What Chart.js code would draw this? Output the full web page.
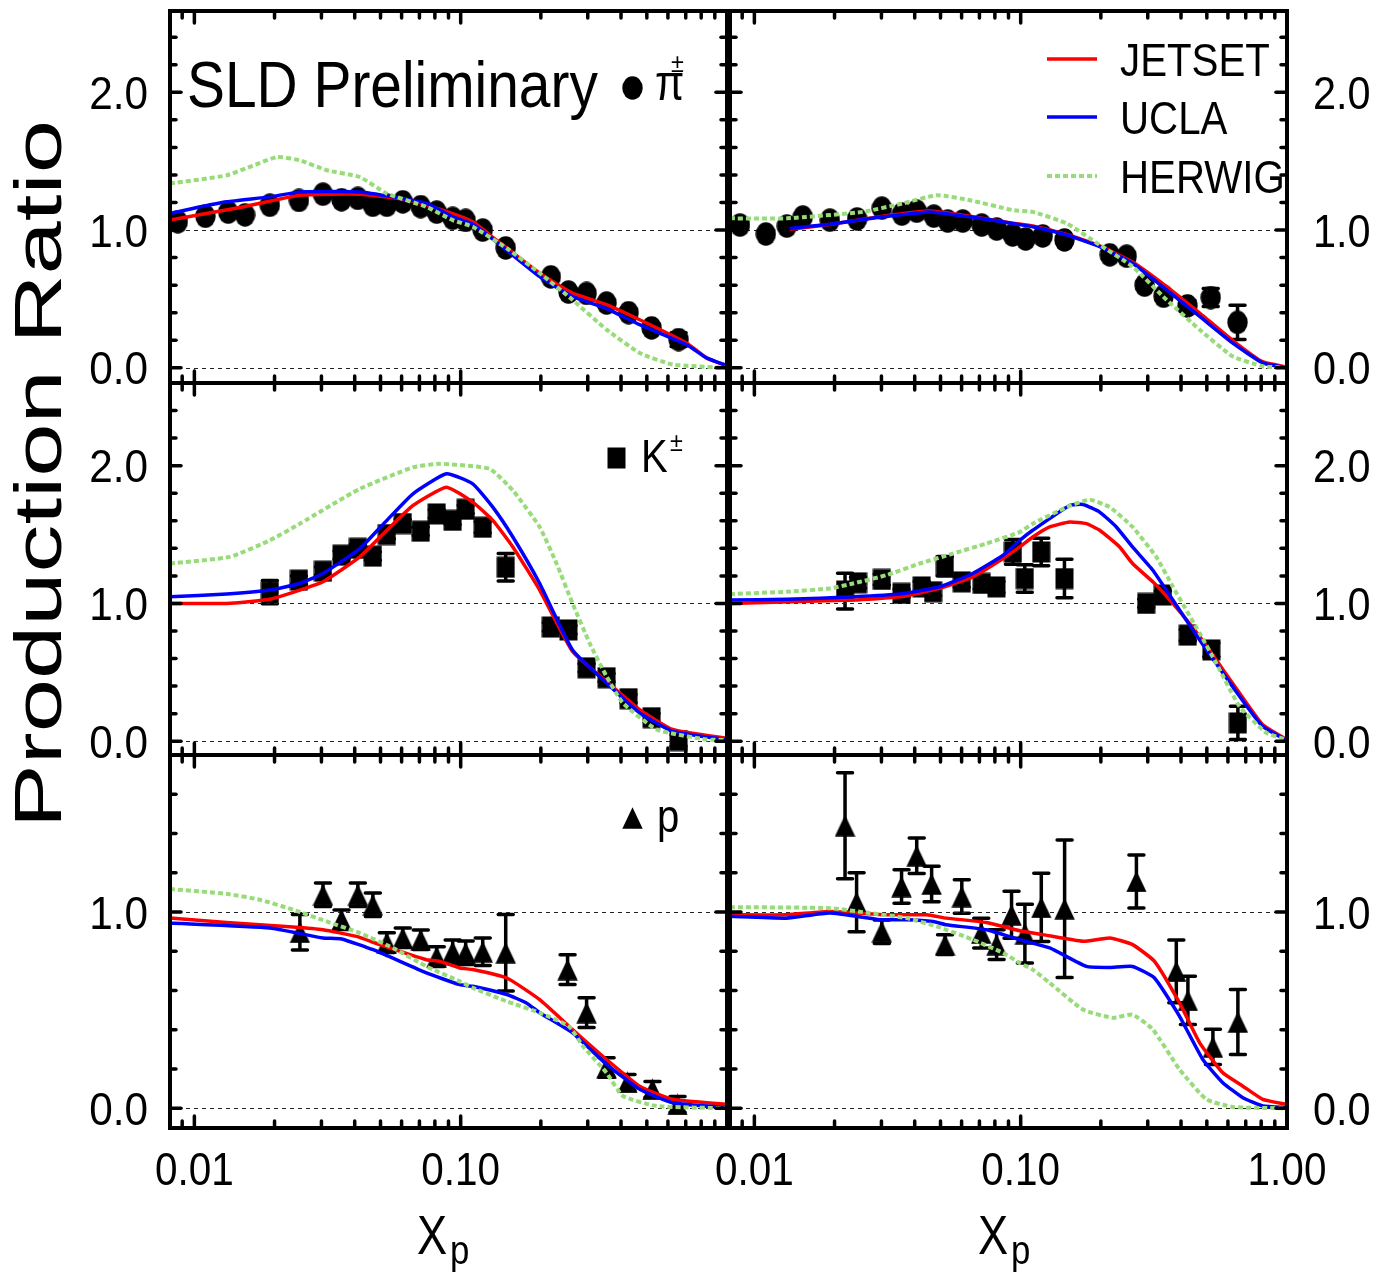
<!DOCTYPE html>
<html>
<head>
<meta charset="utf-8">
<title>Production Ratio vs x_p</title>
<script src="https://cdn.jsdelivr.net/npm/chart.js@4.4.1/dist/chart.umd.min.js"></script>
<style>
  body { margin: 0; background: #fff; }
  #page { position: relative; width: 1387px; height: 1276px; overflow: hidden; background: #fff; }
  #page canvas { position: absolute; left: 0; top: 0; }
</style>
</head>
<body>
<div id="page"></div>
<script>
const PAGE_W = 1387, PAGE_H = 1276;
const X_MIN = 0.0081, X_MAX = 1.0;
const FONT = '"Liberation Sans", Arial, Helvetica, sans-serif';

const modelNames = ['JETSET', 'UCLA', 'HERWIG'];
const yTitle = 'Production Ratio';

// ---------- pi+- ----------
const piLX = [0.00867, 0.0110, 0.0134, 0.0155, 0.0192, 0.0247, 0.0304, 0.0357, 0.0411, 0.0468, 0.0528, 0.0606, 0.0708, 0.0813, 0.0933, 0.1044, 0.121, 0.1476, 0.218, 0.254, 0.297, 0.353, 0.427, 0.521, 0.658];
const piLY = [1.06, 1.10, 1.13, 1.11, 1.18, 1.215, 1.26, 1.22, 1.23, 1.18, 1.18, 1.205, 1.17, 1.13, 1.085, 1.07, 1.0, 0.87, 0.66, 0.55, 0.54, 0.47, 0.40, 0.29, 0.205];
const piLErr = [0.02, 0.02, 0.02, 0.02, 0.02, 0.02, 0.02, 0.02, 0.02, 0.02, 0.02, 0.02, 0.02, 0.02, 0.02, 0.02, 0.02, 0.02, 0.02, 0.02, 0.02, 0.02, 0.03, 0.03, 0.05];

const jetsetPiLX = [0.0081, 0.0152, 0.0249, 0.0418, 0.0644, 0.0933, 0.111, 0.136, 0.198, 0.263, 0.353, 0.47, 0.705, 0.838, 1.0];
const jetsetPiLY = [1.072, 1.168, 1.253, 1.26, 1.217, 1.12, 1.06, 0.928, 0.687, 0.542, 0.459, 0.349, 0.181, 0.072, 0.015];
const uclaPiLX = [0.0081, 0.00986, 0.01324, 0.0192, 0.0249, 0.0418, 0.0556, 0.0745, 0.0933, 0.111, 0.136, 0.198, 0.263, 0.353, 0.47, 0.705, 0.838, 1.0];
const uclaPiLY = [1.12, 1.157, 1.205, 1.241, 1.277, 1.277, 1.241, 1.193, 1.096, 1.043, 0.915, 0.662, 0.518, 0.43, 0.313, 0.168, 0.072, 0.015];
const herwigPiLX = [0.0081, 0.01324, 0.0204, 0.0249, 0.0314, 0.0418, 0.0528, 0.0745, 0.0933, 0.111, 0.149, 0.198, 0.263, 0.353, 0.47, 0.625, 1.0];
const herwigPiLY = [1.338, 1.398, 1.53, 1.506, 1.434, 1.385, 1.265, 1.168, 1.072, 1.024, 0.868, 0.687, 0.494, 0.277, 0.108, 0.024, 0.0];

const piRX = [0.00883, 0.01104, 0.01324, 0.0152, 0.0192, 0.0243, 0.0301, 0.0358, 0.0407, 0.0472, 0.0532, 0.0606, 0.0714, 0.0813, 0.0933, 0.1044, 0.121, 0.146, 0.216, 0.25, 0.292, 0.344, 0.423, 0.517, 0.652];
const piRY = [1.036, 0.971, 1.029, 1.094, 1.072, 1.08, 1.159, 1.116, 1.137, 1.101, 1.065, 1.065, 1.036, 1.007, 0.964, 0.935, 0.957, 0.928, 0.82, 0.81, 0.60, 0.52, 0.45, 0.51, 0.33];
const piRErr = [0.02, 0.02, 0.02, 0.02, 0.02, 0.02, 0.02, 0.02, 0.02, 0.02, 0.02, 0.02, 0.02, 0.02, 0.02, 0.02, 0.02, 0.02, 0.03, 0.03, 0.03, 0.03, 0.04, 0.065, 0.125];

const jetsetPiRX = [0.0136, 0.0192, 0.0303, 0.0456, 0.0644, 0.0933, 0.111, 0.149, 0.198, 0.263, 0.353, 0.47, 0.624, 0.809, 1.0];
const jetsetPiRY = [1.005, 1.04, 1.10, 1.138, 1.10, 1.05, 1.03, 0.968, 0.885, 0.768, 0.59, 0.398, 0.2, 0.045, 0.005];
const uclaPiRX = [0.0136, 0.0192, 0.0303, 0.0456, 0.0644, 0.0933, 0.111, 0.149, 0.198, 0.263, 0.353, 0.47, 0.624, 0.809, 1.0];
const uclaPiRY = [1.012, 1.043, 1.096, 1.132, 1.096, 1.048, 1.024, 0.964, 0.879, 0.759, 0.566, 0.373, 0.181, 0.036, 0.0];
const herwigPiRX = [0.0081, 0.01324, 0.0255, 0.036, 0.0484, 0.0644, 0.0933, 0.111, 0.149, 0.198, 0.263, 0.353, 0.47, 0.624, 0.809, 1.0];
const herwigPiRY = [1.085, 1.085, 1.132, 1.193, 1.253, 1.217, 1.145, 1.132, 1.048, 0.892, 0.735, 0.494, 0.277, 0.084, 0.012, 0.0];

// ---------- K+- ----------
const kLX = [0.0192, 0.0247, 0.0304, 0.0357, 0.0411, 0.0468, 0.0528, 0.0606, 0.0708, 0.0813, 0.0933, 0.1044, 0.121, 0.1476, 0.218, 0.254, 0.297, 0.353, 0.427, 0.521, 0.658];
const kLY = [1.082, 1.169, 1.234, 1.35, 1.40, 1.343, 1.50, 1.58, 1.524, 1.65, 1.603, 1.683, 1.553, 1.263, 0.829, 0.808, 0.533, 0.461, 0.309, 0.171, 0.005];
const kLErr = [0.085, 0.03, 0.03, 0.03, 0.03, 0.03, 0.03, 0.03, 0.03, 0.03, 0.03, 0.03, 0.04, 0.10, 0.03, 0.03, 0.03, 0.03, 0.03, 0.03, 0.04];

const jetsetKLX = [0.0081, 0.01324, 0.0192, 0.0249, 0.0304, 0.0418, 0.0528, 0.0662, 0.0884, 0.111, 0.132, 0.157, 0.198, 0.263, 0.353, 0.47, 0.625, 1.0];
const jetsetKLY = [1.0, 1.0, 1.03, 1.097, 1.157, 1.338, 1.531, 1.711, 1.844, 1.735, 1.603, 1.41, 1.097, 0.651, 0.434, 0.229, 0.085, 0.02];
const uclaKLX = [0.0081, 0.01324, 0.0192, 0.0249, 0.0304, 0.0418, 0.0528, 0.0662, 0.0884, 0.111, 0.132, 0.157, 0.198, 0.263, 0.353, 0.47, 0.625, 1.0];
const uclaKLY = [1.048, 1.068, 1.097, 1.145, 1.218, 1.398, 1.603, 1.796, 1.941, 1.868, 1.699, 1.482, 1.145, 0.663, 0.422, 0.205, 0.072, 0.01];
const herwigKLX = [0.0081, 0.0136, 0.0192, 0.0249, 0.0418, 0.0662, 0.0834, 0.1285, 0.157, 0.198, 0.229, 0.263, 0.305, 0.353, 0.406, 0.544, 0.838, 1.0];
const herwigKLY = [1.29, 1.338, 1.458, 1.579, 1.832, 1.988, 2.013, 1.977, 1.82, 1.555, 1.29, 1.0, 0.711, 0.47, 0.278, 0.085, 0.012, 0.01];

const kRX = [0.0219, 0.0245, 0.0301, 0.0357, 0.0425, 0.0469, 0.0519, 0.0601, 0.0714, 0.0811, 0.0935, 0.1036, 0.1194, 0.146, 0.296, 0.342, 0.424, 0.52, 0.654];
const kRY = [1.09, 1.15, 1.174, 1.073, 1.12, 1.085, 1.27, 1.157, 1.145, 1.12, 1.374, 1.181, 1.374, 1.181, 1.0, 1.061, 0.77, 0.663, 0.133];
const kRErr = [0.13, 0.04, 0.04, 0.03, 0.04, 0.03, 0.07, 0.04, 0.04, 0.04, 0.09, 0.1, 0.1, 0.14, 0.03, 0.03, 0.04, 0.05, 0.12];

const jetsetKRX = [0.0081, 0.0235, 0.0352, 0.0497, 0.0662, 0.0859, 0.0992, 0.111, 0.1285, 0.1527, 0.1765, 0.198, 0.2353, 0.263, 0.3135, 0.3727, 0.47, 0.624, 0.809, 1.0];
const jetsetKRY = [1.0, 1.025, 1.048, 1.109, 1.193, 1.326, 1.41, 1.482, 1.555, 1.591, 1.579, 1.531, 1.41, 1.29, 1.157, 1.0, 0.759, 0.422, 0.121, 0.01];
const uclaKRX = [0.0081, 0.01324, 0.0235, 0.0352, 0.0497, 0.0662, 0.0859, 0.0992, 0.111, 0.1527, 0.1714, 0.198, 0.2286, 0.263, 0.3135, 0.3727, 0.47, 0.624, 0.809, 1.0];
const uclaKRY = [1.025, 1.03, 1.048, 1.068, 1.121, 1.218, 1.35, 1.458, 1.531, 1.711, 1.718, 1.663, 1.555, 1.41, 1.241, 1.025, 0.735, 0.398, 0.108, 0.005];
const herwigKRX = [0.0081, 0.01324, 0.0192, 0.0235, 0.0313, 0.0418, 0.0557, 0.0744, 0.0992, 0.111, 0.149, 0.1815, 0.216, 0.263, 0.323, 0.3727, 0.47, 0.542, 0.663, 0.836, 1.0];
const herwigKRY = [1.068, 1.085, 1.109, 1.145, 1.205, 1.29, 1.362, 1.435, 1.518, 1.579, 1.699, 1.753, 1.699, 1.555, 1.338, 1.121, 0.784, 0.567, 0.253, 0.061, 0.01];

// ---------- protons ----------
const pLX = [0.0249, 0.0304, 0.0357, 0.0411, 0.0468, 0.0528, 0.0606, 0.0708, 0.0813, 0.0933, 0.1044, 0.121, 0.1476, 0.252, 0.297, 0.353, 0.423, 0.525, 0.652];
const pLY = [0.897, 1.088, 0.961, 1.088, 1.037, 0.844, 0.869, 0.859, 0.773, 0.798, 0.793, 0.798, 0.793, 0.707, 0.488, 0.208, 0.132, 0.097, 0.02];
const pLErr = [0.09, 0.06, 0.05, 0.06, 0.06, 0.05, 0.05, 0.05, 0.05, 0.06, 0.06, 0.07, 0.195, 0.076, 0.076, 0.05, 0.04, 0.04, 0.04];

const jetsetPLX = [0.0081, 0.0132, 0.0235, 0.0304, 0.0406, 0.0497, 0.0744, 0.0834, 0.0992, 0.111, 0.149, 0.198, 0.263, 0.353, 0.47, 0.625, 1.0];
const jetsetPLY = [0.97, 0.947, 0.924, 0.91, 0.876, 0.834, 0.757, 0.749, 0.715, 0.707, 0.664, 0.554, 0.402, 0.249, 0.113, 0.046, 0.02];
const uclaPLX = [0.0081, 0.0192, 0.0304, 0.0357, 0.0469, 0.0744, 0.0992, 0.111, 0.149, 0.1765, 0.198, 0.263, 0.353, 0.47, 0.625, 1.0];
const uclaPLY = [0.944, 0.919, 0.868, 0.863, 0.808, 0.69, 0.63, 0.622, 0.58, 0.537, 0.487, 0.385, 0.224, 0.097, 0.029, 0.004];
const herwigPLX = [0.0081, 0.0132, 0.0176, 0.0235, 0.0314, 0.0418, 0.0557, 0.0744, 0.0992, 0.111, 0.149, 0.198, 0.255, 0.2877, 0.353, 0.4064, 0.544, 1.0];
const herwigPLY = [1.117, 1.093, 1.063, 1.012, 0.952, 0.893, 0.817, 0.723, 0.647, 0.614, 0.545, 0.487, 0.418, 0.317, 0.181, 0.063, 0.012, 0.0];

const pRX = [0.0219, 0.0242, 0.0301, 0.0357, 0.0407, 0.0463, 0.052, 0.0601, 0.0711, 0.0812, 0.0924, 0.1037, 0.1195, 0.1462, 0.272, 0.384, 0.4245, 0.527, 0.654];
const pRY = [1.44, 1.05, 0.90, 1.13, 1.287, 1.143, 0.834, 1.079, 0.893, 0.834, 0.986, 0.89, 1.024, 1.017, 1.156, 0.698, 0.55, 0.313, 0.44];
const pRErr = [0.27, 0.15, 0.06, 0.085, 0.09, 0.09, 0.05, 0.085, 0.076, 0.076, 0.12, 0.15, 0.174, 0.35, 0.135, 0.16, 0.123, 0.09, 0.165];

const jetsetPRX = [0.0081, 0.0132, 0.0192, 0.0313, 0.0443, 0.0526, 0.0744, 0.0992, 0.1213, 0.1714, 0.216, 0.263, 0.318, 0.395, 0.47, 0.574, 0.683, 0.811, 1.0];
const jetsetPRY = [0.986, 0.986, 1.003, 0.986, 0.986, 0.969, 0.947, 0.905, 0.885, 0.851, 0.868, 0.834, 0.749, 0.537, 0.334, 0.181, 0.113, 0.046, 0.02];
const uclaPRX = [0.0081, 0.0132, 0.0192, 0.0296, 0.0373, 0.0469, 0.0526, 0.0744, 0.0992, 0.1285, 0.1765, 0.216, 0.263, 0.318, 0.395, 0.483, 0.574, 0.683, 0.811, 1.0];
const uclaPRY = [0.978, 0.969, 0.995, 0.961, 0.961, 0.952, 0.935, 0.91, 0.859, 0.817, 0.723, 0.718, 0.723, 0.664, 0.469, 0.249, 0.131, 0.054, 0.012, 0.004];
const herwigPRX = [0.0081, 0.0192, 0.0271, 0.0373, 0.0483, 0.0662, 0.0859, 0.0992, 0.111, 0.1285, 0.1714, 0.222, 0.263, 0.3135, 0.395, 0.4977, 0.626, 1.0];
const herwigPRY = [1.025, 1.02, 0.995, 0.969, 0.927, 0.859, 0.792, 0.741, 0.707, 0.639, 0.503, 0.461, 0.478, 0.402, 0.198, 0.046, 0.007, 0.0];

// line look of the three generators: JETSET, UCLA, HERWIG
const modelStyle = [
  { color: '#ff0000', width: 3.5, dash: [] },
  { color: '#0000ff', width: 3.5, dash: [] },
  { color: '#97dc78', width: 4, dash: [5, 3] }
];

// ---------- helpers ----------
function pts(xs, ys) {
  return xs.map((x, i) => ({ x: x, y: ys[i] }));
}

// filled black marker drawn once on a small canvas, used as pointStyle
function marker(kind, w, h) {
  const c = document.createElement('canvas');
  c.width = w; c.height = h;
  const g = c.getContext('2d');
  g.fillStyle = '#000';
  g.beginPath();
  if (kind === 'circle') {
    g.ellipse(w / 2, h / 2, w / 2 - 0.3, h / 2 - 0.3, 0, 0, Math.PI * 2);
  } else if (kind === 'square') {
    g.rect(0.5, 0.5, w - 1, h - 1);
  } else {
    g.moveTo(w / 2, 0.3);
    g.lineTo(w - 0.3, h - 0.3);
    g.lineTo(0.3, h - 0.3);
    g.closePath();
  }
  g.fill();
  return c;
}
const CIRCLE = marker('circle', 21, 24);
const SQUARE = marker('square', 19, 22);
const TRIANGLE = marker('triangle', 21, 22);

// text is drawn a little narrower than the font, like the original figure
function label(ctx, str, x, y, size, align, sx) {
  ctx.save();
  ctx.font = size + 'px ' + FONT;
  ctx.textAlign = align || 'left';
  ctx.textBaseline = 'alphabetic';
  ctx.fillStyle = '#000';
  ctx.translate(x, y);
  ctx.scale(sx || 0.87, 1);
  ctx.fillText(str, 0, 0);
  ctx.restore();
}

// error bars sit under the markers and the model curves
const errorBars = {
  id: 'errorBars',
  beforeDatasetsDraw(chart) {
    const ctx = chart.ctx, xs = chart.scales.x, ys = chart.scales.y;
    chart.data.datasets.forEach(ds => {
      if (!ds.errors) return;
      ctx.save();
      ctx.strokeStyle = '#000';
      ctx.lineWidth = 3.5;
      ctx.lineCap = 'round';
      ds.data.forEach((p, i) => {
        const e = ds.errors[i];
        if (!e) return;
        const px = xs.getPixelForValue(p.x);
        const top = ys.getPixelForValue(p.y + e);
        const bot = ys.getPixelForValue(p.y - e);
        ctx.beginPath();
        ctx.moveTo(px, top); ctx.lineTo(px, bot);
        ctx.moveTo(px - 7.5, top); ctx.lineTo(px + 7.5, top);
        ctx.moveTo(px - 7.5, bot); ctx.lineTo(px + 7.5, bot);
        ctx.stroke();
      });
      ctx.restore();
    });
  }
};

const xMinorTicks = [0.009, 0.02, 0.03, 0.04, 0.05, 0.06, 0.07, 0.08, 0.09, 0.2, 0.3, 0.4, 0.5, 0.6, 0.7, 0.8, 0.9];
const xMajorTicks = [0.01, 0.1];

// frame, inward ticks, reference lines and tick labels of one panel
function framePlugin(cfg) {
  return {
    id: 'frame',
    beforeDatasetsDraw(chart) {
      const ctx = chart.ctx, a = chart.chartArea, ys = chart.scales.y;
      ctx.save();
      ctx.strokeStyle = '#222';
      ctx.lineWidth = 1.2;
      ctx.setLineDash([4, 4]);
      [0, 1].forEach(v => {
        const py = Math.round(ys.getPixelForValue(v)) + 0.5;
        ctx.beginPath();
        ctx.moveTo(a.left, py);
        ctx.lineTo(a.right, py);
        ctx.stroke();
      });
      ctx.restore();
    },
    afterDatasetsDraw(chart) {
      const ctx = chart.ctx, a = chart.chartArea, xs = chart.scales.x, ys = chart.scales.y;
      ctx.save();
      ctx.strokeStyle = '#000';
      ctx.lineCap = 'round';
      ctx.lineWidth = 3.5;
      const tick = (x0, y0, x1, y1) => { ctx.beginPath(); ctx.moveTo(x0, y0); ctx.lineTo(x1, y1); ctx.stroke(); };
      xMinorTicks.concat(xMajorTicks).forEach(v => {
        const len = xMajorTicks.includes(v) ? 12 : 7;
        const px = xs.getPixelForValue(v);
        tick(px, a.bottom, px, a.bottom - len);
        tick(px, a.top, px, a.top + len);
      });
      for (let k = 0; k * 0.2 < cfg.y[1] - 0.05; k++) {
        const len = k % 5 === 0 ? 11 : 6;
        const py = ys.getPixelForValue(k * 0.2);
        tick(a.left, py, a.left + len, py);
        tick(a.right, py, a.right - len, py);
      }
      ctx.lineCap = 'butt';
      ctx.lineWidth = 4;
      ctx.strokeRect(a.left, a.top, a.right - a.left, a.bottom - a.top);
      ctx.restore();

      cfg.yLabels.forEach(v => {
        const py = ys.getPixelForValue(v) + 16.5;
        if (cfg.side === 'left') label(ctx, v.toFixed(1), 148, py, 46, 'right', 0.92);
        else label(ctx, v.toFixed(1), 1313, py, 46, 'left', 0.9);
      });
      cfg.xLabels.forEach(v => {
        label(ctx, v.toFixed(2), xs.getPixelForValue(v), 1185, 46, 'center', 0.88);
      });
      if (cfg.decorate) cfg.decorate(ctx);
    }
  };
}

function xpTitle(ctx, x) {
  label(ctx, 'X', x, 1254, 55, 'left', 0.82);
  label(ctx, 'p', x + 33, 1264, 40, 'left', 0.87);
}

const panels = [
  {
    rect: [170, 10, 727, 383], y: [-0.11, 2.59], side: 'left', yLabels: [0, 1, 2], xLabels: [],
    marker: CIRCLE, pts: [piLX, piLY, piLErr],
    models: [[jetsetPiLX, jetsetPiLY], [uclaPiLX, uclaPiLY], [herwigPiLX, herwigPiLY]],
    decorate(ctx) {
      label(ctx, 'SLD Preliminary', 187, 107, 65, 'left', 0.875);
      ctx.drawImage(CIRCLE, 622, 76);
      label(ctx, 'π', 655, 100, 50, 'left', 0.85);
      label(ctx, '±', 671, 72, 26, 'left', 0.9);
      // y-axis title for the whole figure
      ctx.save();
      ctx.font = '67px ' + FONT;
      const w = ctx.measureText(yTitle).width;
      ctx.translate(61, 474);
      ctx.rotate(-Math.PI / 2);
      ctx.scale(708 / w, 1);
      ctx.textAlign = 'center';
      ctx.fillStyle = '#000';
      ctx.fillText(yTitle, 0, 0);
      ctx.restore();
    }
  },
  {
    rect: [730, 10, 1287, 383], y: [-0.11, 2.59], side: 'right', yLabels: [0, 1, 2], xLabels: [],
    marker: CIRCLE, pts: [piRX, piRY, piRErr],
    models: [[jetsetPiRX, jetsetPiRY], [uclaPiRX, uclaPiRY], [herwigPiRX, herwigPiRY]],
    decorate(ctx) {
      [59, 117, 176].forEach((y, i) => {
        const s = modelStyle[i];
        ctx.save();
        ctx.strokeStyle = s.color;
        ctx.lineWidth = s.width;
        ctx.setLineDash(s.dash);
        ctx.beginPath();
        ctx.moveTo(1047, y);
        ctx.lineTo(1097, y);
        ctx.stroke();
        ctx.restore();
        label(ctx, modelNames[i], 1120, y + 16.5, 46, 'left', 0.875);
      });
    }
  },
  {
    rect: [170, 383, 727, 755], y: [-0.1, 2.6], side: 'left', yLabels: [0, 1, 2], xLabels: [],
    marker: SQUARE, pts: [kLX, kLY, kLErr],
    models: [[jetsetKLX, jetsetKLY], [uclaKLX, uclaKLY], [herwigKLX, herwigKLY]],
    decorate(ctx) {
      ctx.drawImage(SQUARE, 607, 447);
      label(ctx, 'K', 641, 472, 46, 'left', 0.87);
      label(ctx, '±', 670, 451, 26, 'left', 0.9);
    }
  },
  {
    rect: [730, 383, 1287, 755], y: [-0.1, 2.6], side: 'right', yLabels: [0, 1, 2], xLabels: [],
    marker: SQUARE, pts: [kRX, kRY, kRErr],
    models: [[jetsetKRX, jetsetKRY], [uclaKRX, uclaKRY], [herwigKRX, herwigKRY]]
  },
  {
    rect: [170, 755, 727, 1128], y: [-0.1, 1.8], side: 'left', yLabels: [0, 1], xLabels: [0.01, 0.1],
    marker: TRIANGLE, pts: [pLX, pLY, pLErr],
    models: [[jetsetPLX, jetsetPLY], [uclaPLX, uclaPLY], [herwigPLX, herwigPLY]],
    decorate(ctx) {
      ctx.drawImage(TRIANGLE, 622, 807);
      label(ctx, 'p', 657, 832, 46, 'left', 0.87);
      xpTitle(ctx, 417);
    }
  },
  {
    rect: [730, 755, 1287, 1128], y: [-0.1, 1.8], side: 'right', yLabels: [0, 1], xLabels: [0.01, 0.1, 1],
    marker: TRIANGLE, pts: [pRX, pRY, pRErr],
    models: [[jetsetPRX, jetsetPRY], [uclaPRX, uclaPRY], [herwigPRX, herwigPRY]],
    decorate(ctx) {
      xpTitle(ctx, 978);
    }
  }
];

const page = document.getElementById('page');

panels.forEach(cfg => {
  const canvas = document.createElement('canvas');
  canvas.width = PAGE_W;
  canvas.height = PAGE_H;
  page.appendChild(canvas);
  const [l, t, r, b] = cfg.rect;

  // first dataset is painted last: HERWIG on top, then UCLA, JETSET, data
  const lines = [2, 1, 0].map(i => ({
    label: modelNames[i],
    data: pts(cfg.models[i][0], cfg.models[i][1]),
    showLine: true,
    pointRadius: 0,
    borderColor: modelStyle[i].color,
    borderWidth: modelStyle[i].width,
    borderDash: modelStyle[i].dash,
    tension: 0.15,
    fill: false
  }));
  const measured = {
    label: 'SLD',
    data: pts(cfg.pts[0], cfg.pts[1]),
    errors: cfg.pts[2],
    showLine: false,
    pointStyle: cfg.marker,
    pointRadius: 10
  };

  new Chart(canvas.getContext('2d'), {
    type: 'scatter',
    data: { datasets: lines.concat([measured]) },
    options: {
      responsive: false,
      animation: false,
      devicePixelRatio: 1,
      events: [],
      layout: { padding: { left: l, top: t, right: PAGE_W - r, bottom: PAGE_H - b } },
      scales: {
        x: { type: 'logarithmic', min: X_MIN, max: X_MAX, display: false },
        y: { type: 'linear', min: cfg.y[0], max: cfg.y[1], display: false }
      },
      plugins: { legend: { display: false }, tooltip: { enabled: false } }
    },
    plugins: [errorBars, framePlugin(cfg)]
  });
});
</script>
</body>
</html>
